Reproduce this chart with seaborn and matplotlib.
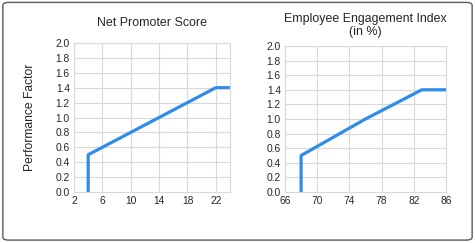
import matplotlib
matplotlib.use("Agg")
import matplotlib.pyplot as plt
import seaborn as sns
import pandas as pd
from matplotlib.patches import FancyBboxPatch

# Data
nps_x = [4, 4, 22, 24]
nps_y = [0.0, 0.5, 1.4, 1.4]
eei_x = [68, 68, 76, 83, 86]
eei_y = [0.0, 0.5, 1.0, 1.4, 1.4]

nps_ticks = [2, 6, 10, 14, 18, 22]
eei_ticks = [66, 70, 74, 78, 82, 86]
y_ticks = [0.0, 0.2, 0.4, 0.6, 0.8, 1.0, 1.2, 1.4, 1.6, 1.8, 2.0]

titles = ["Net Promoter Score", "Employee Engagement Index\n(in %)"]
ylabel = "Performance Factor"

sns.set_theme(style="white")
plt.rcParams['font.family'] = ['Liberation Sans', 'DejaVu Sans']

line_color = "#2f8ce8"
grid_color = "#d9d9d9"
text_color = "#262626"

fig = plt.figure(figsize=(4.75, 2.43), dpi=100)
fig.patch.set_facecolor("white")

border = FancyBboxPatch((0.006, 0.012), 0.988, 0.978,
                        boxstyle="round,pad=0,rounding_size=0.012",
                        transform=fig.transFigure, facecolor="none",
                        edgecolor="#5a5a5a", linewidth=1.0)
fig.patches.append(border)

ax1 = fig.add_axes([74/475, 1-192/243, (230-74)/475, (192-43)/243])
ax2 = fig.add_axes([285/475, 1-192/243, (446-285)/475, (192-46)/243])

df1 = pd.DataFrame({"x": nps_x, "y": nps_y})
df2 = pd.DataFrame({"x": eei_x, "y": eei_y})

sns.lineplot(data=df1, x="x", y="y", ax=ax1, sort=False, estimator=None,
             color=line_color, linewidth=2.3)
sns.lineplot(data=df2, x="x", y="y", ax=ax2, sort=False, estimator=None,
             color=line_color, linewidth=2.3)

for ax, xt, xlim, title in [(ax1, nps_ticks, (2, 24), titles[0]),
                             (ax2, eei_ticks, (66, 86), titles[1])]:
    ax.set_xlim(*xlim)
    ax.set_ylim(0, 2.0)
    ax.set_xticks(xt)
    ax.set_xticklabels([str(t) for t in xt])
    ax.set_yticks(y_ticks)
    ax.set_yticklabels([f"{t:.1f}" for t in y_ticks])
    ax.grid(True, color=grid_color, linewidth=0.8)
    ax.set_axisbelow(True)
    for s in ax.spines.values():
        s.set_visible(True)
        s.set_color(grid_color)
        s.set_linewidth(0.8)
    ax.tick_params(axis="both", length=0, labelsize=7.4, colors=text_color, pad=3)
    ax.set_xlabel("")
    ax.set_ylabel("")
    ax.set_title(title, fontsize=8.9, color=text_color, pad=12 if ax is ax1 else 8, linespacing=1.1)

ax1.set_ylabel(ylabel, fontsize=8.7, color=text_color, labelpad=14)

fig.savefig("out.png", dpi=100, facecolor="white")
